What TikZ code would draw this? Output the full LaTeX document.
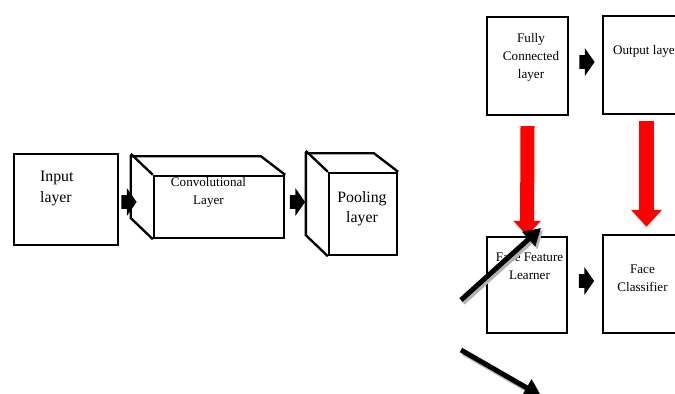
\documentclass[tikz,border=0pt]{standalone}
\usepackage{fontspec}
\setmainfont{Liberation Serif}
\usepackage{tikz}
\usetikzlibrary{arrows.meta, positioning, shapes.arrows}

\begin{document}
\begin{tikzpicture}[
  x=0.03cm, y=-0.03cm,
  every node/.style={font=\fontsize{11.2}{15.3}\selectfont},
  box/.style={draw, line width=2pt, inner sep=0pt},
  cube/.style={line width=2pt, line join=miter},
  bigtxt/.style={font=\fontsize{13.5}{17.8}\selectfont},
  smalltxt/.style={align=center},
  blockarrow/.style={single arrow, fill=black, inner xsep=0pt, inner ysep=0.2cm,
    minimum height=0.46cm, minimum width=0.84cm, single arrow head extend=0.21cm,
    single arrow tip angle=110},
  redarrow/.style={red, line width=0.42cm, -{Triangle[length=0.45cm, width=0.8cm]}},
  bigredarrow/.style={red, line width=0.45cm, -{Triangle[length=0.51cm, width=0.9cm]}},
  darrow/.style={line width=0.15cm, -{Triangle[length=0.5cm, width=0.56cm]}},
  shadowline/.style={darrow, gray!60, transform canvas={shift={(0.06cm,-0.08cm)}}}
]
\useasboundingbox (0,0) rectangle (675,394);
\clip (0,0) rectangle (675,394);

% --- Input layer ---
\node[box, minimum width=3.12cm, minimum height=2.73cm] (input) at (66,199.5) {};
\node[bigtxt, align=left, anchor=west] (inputtxt) at (36,188.5) {Input\\layer};

% --- Convolutional layer (cuboid) ---
\node[box, minimum width=3.9cm, minimum height=1.86cm] (conv) at (219,207) {};
\draw[cube] (conv.south west) -- ++(-22,-21) -- ++(0,-62) -- ++(130,0) -- (conv.north east);
\draw[cube] (conv.north west) -- ++(-22,-21);
\node[smalltxt] (convtxt) at (208.5,192) {Convolutional\\Layer};

% --- Pooling layer (cuboid) ---
\node[box, minimum width=2.04cm, minimum height=2.46cm] (pool) at (363,214) {};
\draw[cube] (pool.south west) -- ++(-22,-21) -- ++(0,-82) -- ++(68,0) -- (pool.north east);
\draw[cube] (pool.north west) -- ++(-22,-21);
\node[bigtxt, align=center, font=\fontsize{13.5}{17}\selectfont] (pooltxt) at (362,209) {Pooling\\layer};

% --- Top row ---
\node[box, minimum width=2.43cm, minimum height=2.94cm] (fc) at (527.5,66) {};
\node[smalltxt] (fctxt) at (531,57) {Fully\\Connected\\layer};
\node[box, minimum width=2.61cm, minimum height=2.94cm] (out) at (646.5,65) {};
\node[anchor=west] (outtxt) at (609,51) {Output layer};

% --- Bottom row ---
\node[box, minimum width=2.4cm, minimum height=2.88cm] (ffl) at (527,285) {};
\node[smalltxt] (ffltxt) at (529.5,266.5) {Face Feature\\Learner};
\node[box, minimum width=2.61cm, minimum height=2.94cm] (cls) at (646.5,284) {};
\node[smalltxt] (clstxt) at (642.5,278.5) {Face\\Classifier};

% --- Block arrows ---
\node[blockarrow] (a1) at (126.5,202) {};
\node[blockarrow] (a2) at (295,202) {};
\node[blockarrow] (a3) at (584.5,62) {};
\node[blockarrow] (a4) at (584,281) {};

% --- Red arrows ---
\draw[redarrow] ([yshift=-0.3cm]fc.south) -- (ffl.north);
\draw[bigredarrow] ([yshift=-0.18cm]out.south) -- ([yshift=0.21cm]cls.north);

% --- Diagonal arrows ---
\coordinate (d1a) at (461,300);
\coordinate (d1b) at (541,228);
\coordinate (d2a) at (461,350);
\coordinate (d2b) at (541,396);
\draw[shadowline] (d1a) -- (d1b);
\draw[darrow] (d1a) -- (d1b);
\draw[shadowline] (d2a) -- (d2b);
\draw[darrow] (d2a) -- (d2b);

\end{tikzpicture}
\end{document}
